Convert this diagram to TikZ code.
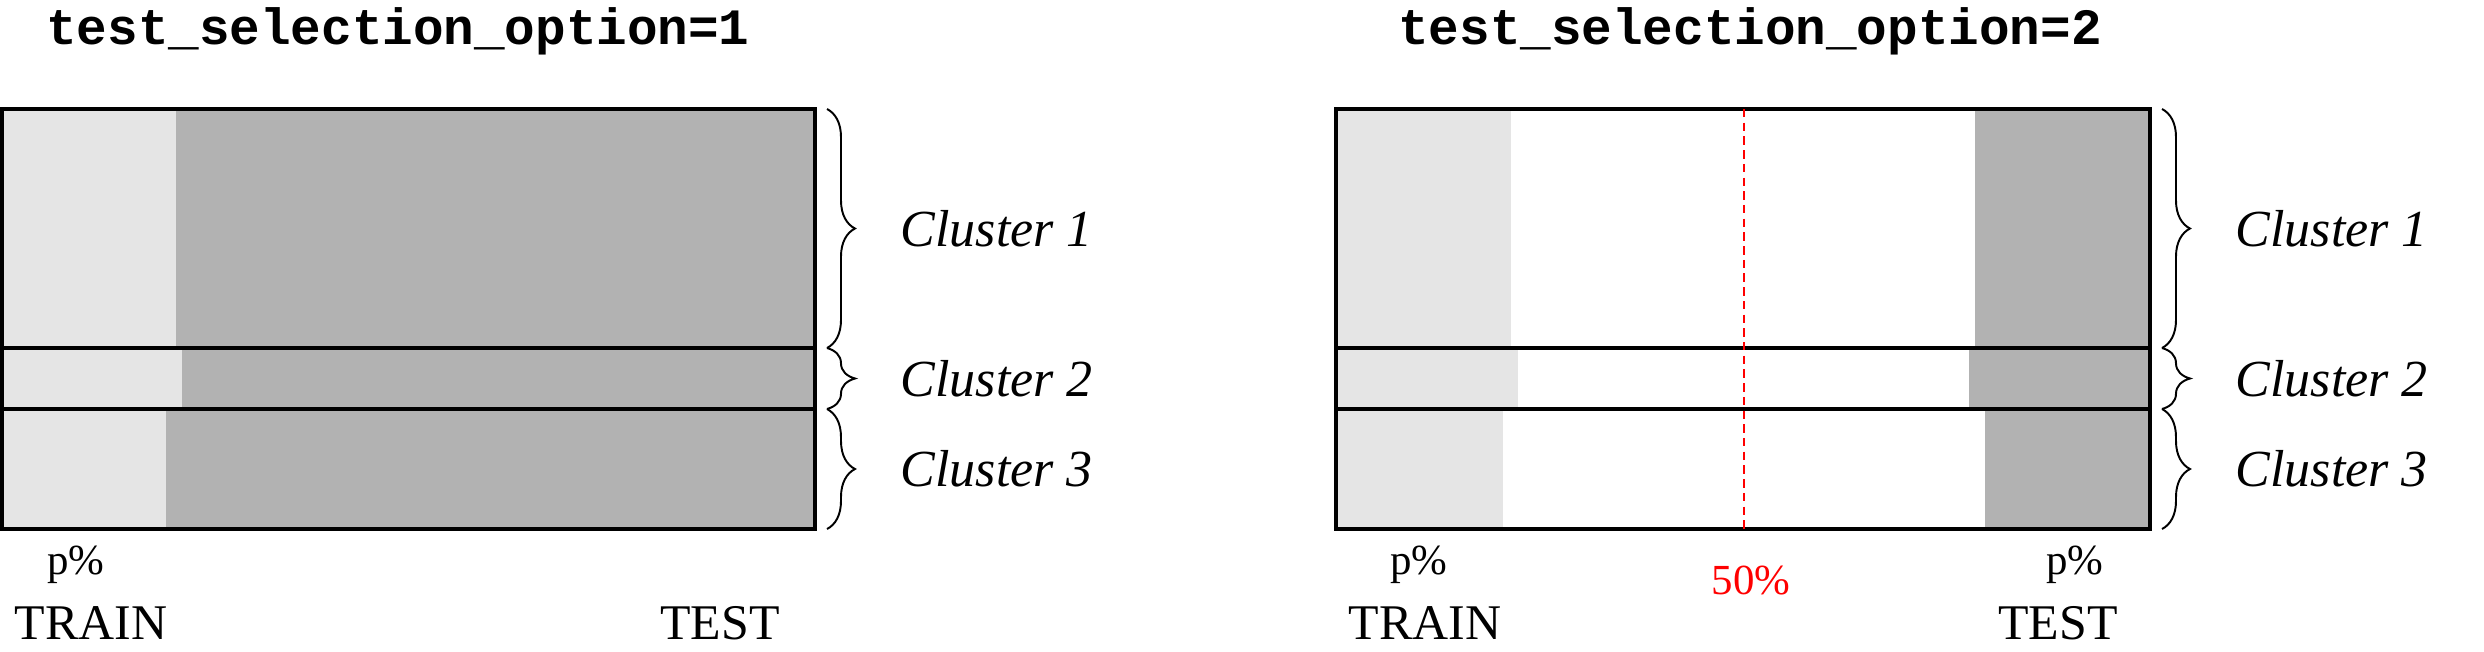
\documentclass[tikz,border=0pt]{standalone}
\usepackage{fontspec}
\setmainfont{Liberation Serif}
\setmonofont{Liberation Mono}
\usetikzlibrary{decorations.pathreplacing,positioning}
\definecolor{trainfill}{gray}{0.9}
\definecolor{testfill}{gray}{0.7}

\begin{document}
\begin{tikzpicture}[
      box/.style={draw,line width=1.1pt},
      trainpart/.style={fill=trainfill},
      testpart/.style={fill=testfill},
      half/.style={red,line width=0.6pt,dash pattern=on 2.4pt off 1.5pt},
      clbrace/.style={decorate,decoration={brace,amplitude=2.8mm},line width=0.55pt},
      cllabel/.style={right=6.1mm,font=\fontsize{14.8}{17}\selectfont\itshape},
      title/.style={font=\fontsize{14.5}{17}\selectfont\ttfamily\bfseries},
      split/.style={font=\fontsize{14.2}{17}\selectfont},
      pct/.style={font=\fontsize{12.2}{14}\selectfont}
    ]
    \useasboundingbox (0,0) rectangle (24.84,6.51);

    % Option 1: train is the first p%, the rest of the cluster is test
    \fill[trainpart] (0.02,5.42) rectangle (1.76,3.03);
    \fill[testpart]  (1.76,5.42) rectangle (8.15,3.03);
    \fill[trainpart] (0.02,3.03) rectangle (1.82,2.42);
    \fill[testpart]  (1.82,3.03) rectangle (8.15,2.42);
    \fill[trainpart] (0.02,2.42) rectangle (1.66,1.22);
    \fill[testpart]  (1.66,2.42) rectangle (8.15,1.22);
    \draw[box] (0.02,1.22) rectangle (8.15,5.42);
    \draw[box] (0.02,3.03) -- (8.15,3.03);
    \draw[box] (0.02,2.42) -- (8.15,2.42);

    % Option 2: train is the first p%, test is the last p%
    \fill[trainpart] (13.36,5.42) rectangle (15.11,3.03);
    \fill[testpart]  (19.75,5.42) rectangle (21.50,3.03);
    \fill[trainpart] (13.36,3.03) rectangle (15.18,2.42);
    \fill[testpart]  (19.69,3.03) rectangle (21.50,2.42);
    \fill[trainpart] (13.36,2.42) rectangle (15.03,1.22);
    \fill[testpart]  (19.85,2.42) rectangle (21.50,1.22);
    \draw[box] (13.36,1.22) rectangle (21.50,5.42);
    \draw[box] (13.36,3.03) -- (21.50,3.03);
    \draw[box] (13.36,2.42) -- (21.50,2.42);

    % Middle of the clusters
    \coordinate (mid_top) at (17.44,5.42);
    \coordinate (mid_bot) at (17.44,1.22);
    \draw[half] (mid_top) -- (mid_bot);

    % Brace ends
    \coordinate (l_0) at (8.27,5.42);
    \coordinate (l_1) at (8.27,3.03);
    \coordinate (l_2) at (8.27,2.42);
    \coordinate (l_3) at (8.27,1.22);
    \coordinate (r_0) at (21.62,5.42);
    \coordinate (r_1) at (21.62,3.03);
    \coordinate (r_2) at (21.62,2.42);
    \coordinate (r_3) at (21.62,1.22);

    % Braces
    \draw[clbrace] (l_0) -- node[cllabel] (lc_1) {Cluster 1} (l_1);
    \draw[clbrace] (l_1) -- node[cllabel] (lc_2) {Cluster 2} (l_2);
    \draw[clbrace] (l_2) -- node[cllabel] (lc_3) {Cluster 3} (l_3);
    \draw[clbrace] (r_0) -- node[cllabel] (rc_1) {Cluster 1} (r_1);
    \draw[clbrace] (r_1) -- node[cllabel] (rc_2) {Cluster 2} (r_2);
    \draw[clbrace] (r_2) -- node[cllabel] (rc_3) {Cluster 3} (r_3);

    % Labels
    \node[title] (opt_1) at (3.98,6.20)  {test\_selection\_option=1};
    \node[title] (opt_2) at (17.50,6.20) {test\_selection\_option=2};
    \node[pct]   (p_l)   at (0.76,0.86)  {p\%};
    \node[pct]   (p_rl)  at (14.19,0.86) {p\%};
    \node[pct]   (p_rr)  at (20.75,0.86) {p\%};
    \node[pct,red] (half_lbl) at (17.51,0.70) {50\%};
    \node[split] (train_l) at (0.91,0.28)  {TRAIN};
    \node[split] (test_l)  at (7.20,0.28)  {TEST};
    \node[split] (train_r) at (14.25,0.28) {TRAIN};
    \node[split] (test_r)  at (20.58,0.28) {TEST};
  \end{tikzpicture}
\end{document}
